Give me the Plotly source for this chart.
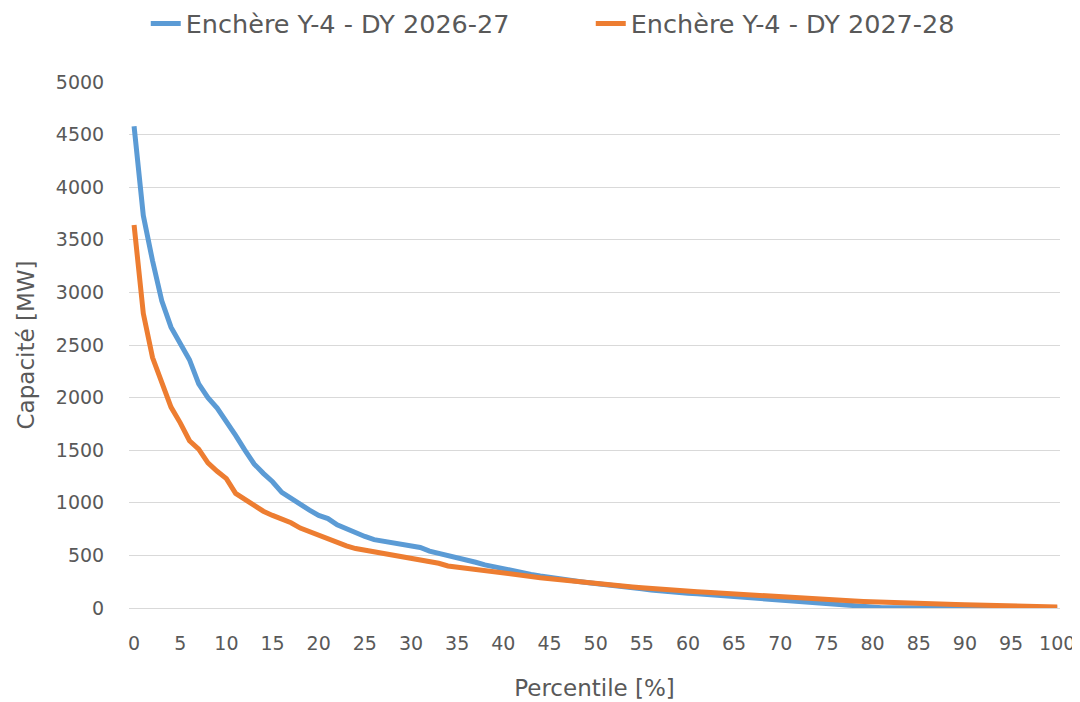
import plotly.graph_objects as go

percentile = list(range(0, 101))

dy_2026_27 = [
    4580, 3730, 3300, 2920, 2670, 2510, 2360, 2130, 2000, 1900,
    1780, 1640, 1500, 1370, 1280, 1200, 1100, 1040, 980, 930,
    880, 850, 790, 750, 710, 680, 650, 635, 620, 605,
    590, 575, 540, 520, 505, 480, 460, 435, 410, 390,
    370, 355, 340, 320, 305, 295, 285, 270, 255, 242,
    230, 220, 210, 200, 192, 182, 172, 162, 155, 148,
    140, 135, 128, 120, 113, 106, 100, 92, 85, 78,
    72, 64, 58, 52, 46, 40, 34, 28, 20, 10,
    5, 3, 2, 2, 1, 1, 1, 1, 0, 0,
    0, 0, 0, 0, 0, 0, 0, 0, 0, 0,
    0,
]

dy_2027_28 = [
    3640, 2800, 2380, 2150, 1910, 1760, 1590, 1510, 1380, 1300,
    1230, 1090, 1030, 970, 920, 880, 850, 810, 760, 725,
    700, 660, 630, 590, 565, 550, 530, 515, 500, 490,
    475, 456, 440, 425, 400, 390, 380, 370, 360, 345,
    333, 322, 310, 300, 288, 278, 268, 258, 250, 242,
    232, 224, 216, 208, 200, 192, 184, 178, 172, 166,
    160, 155, 150, 144, 138, 132, 126, 120, 114, 108,
    103, 98, 93, 88, 83, 79, 74, 70, 66, 62,
    58, 55, 52, 49, 46, 43, 40, 38, 36, 33,
    30, 28, 26, 24, 22, 20, 18, 16, 14, 12,
    10,
]

series_names = ["Enchère Y-4 - DY 2026-27", "Enchère Y-4 - DY 2027-28"]
x_tick_labels = [str(v) for v in range(0, 101, 5)]
y_tick_values = list(range(0, 5001, 500))

FONT = "DejaVu Sans"
GREY = "#595959"

fig = go.Figure()
fig.add_trace(go.Scatter(x=percentile, y=dy_2026_27, mode="lines", name=series_names[0],
                         line=dict(color="#5B9BD5", width=5)))
fig.add_trace(go.Scatter(x=percentile, y=dy_2027_28, mode="lines", name=series_names[1],
                         line=dict(color="#ED7D31", width=5)))

fig.update_layout(
    width=1072, height=694,
    margin=dict(l=121, r=20, t=74, b=94, autoexpand=False),
    paper_bgcolor="white", plot_bgcolor="white",
    font=dict(family=FONT, color=GREY, size=19),
    showlegend=True,
    legend=dict(orientation="h", x=0.018, xanchor="left", y=1.155, yanchor="top",
                yref="paper", font=dict(size=25.5, color=GREY),
                entrywidth=400, entrywidthmode="pixels", traceorder="normal"),
    xaxis=dict(range=[-0.55, 100.3], tickmode="array", automargin=False,
               tickvals=list(range(0, 101, 5)), ticktext=x_tick_labels,
               showgrid=False, zeroline=False, showline=False,
               ticks="outside", ticklen=18, tickcolor="rgba(0,0,0,0)",
               tickfont=dict(size=19, color=GREY),
               title=dict(text="Percentile [%]", font=dict(size=23, color=GREY), standoff=27)),
    yaxis=dict(range=[0, 5000], tickmode="array", tickvals=y_tick_values, automargin=False,
               ticktext=[str(v) for v in y_tick_values],
               showgrid=True, gridcolor="#d9d9d9", gridwidth=1,
               zeroline=True, zerolinecolor="#d9d9d9", zerolinewidth=1,
               showline=False,
               ticks="outside", ticklen=20, tickcolor="rgba(0,0,0,0)",
               tickfont=dict(size=19, color=GREY),
               title=dict(text="Capacité [MW]", font=dict(size=23, color=GREY), standoff=14)),
)

fig.write_html("out.html")
